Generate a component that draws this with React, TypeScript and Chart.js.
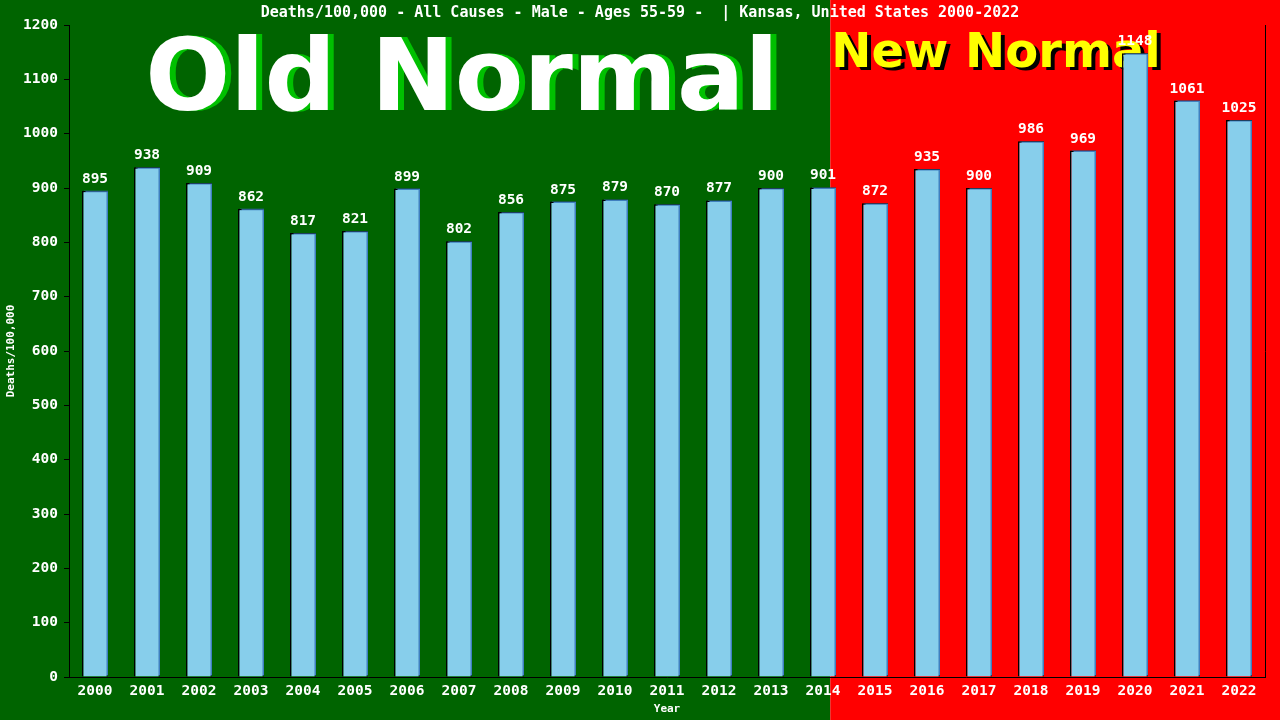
import { useEffect, useRef } from "react";
import Chart from "chart.js/auto";

const years = [
  "2000", "2001", "2002", "2003", "2004", "2005", "2006", "2007", "2008", "2009", "2010", "2011",
  "2012", "2013", "2014", "2015", "2016", "2017", "2018", "2019", "2020", "2021", "2022",
];
const deaths = [
  895, 938, 909, 862, 817, 821, 899, 802, 856, 875, 879, 870,
  877, 900, 901, 872, 935, 900, 986, 969, 1148, 1061, 1025,
];
const yTicks = [0, 1200, 100];

const titleText = "Deaths/100,000 - All Causes - Male - Ages 55-59 -  | Kansas, United States 2000-2022";
const mono = "'DejaVu Sans Mono', monospace";
const sans = "'DejaVu Sans', sans-serif";

export default function App() {
  const canvasRef = useRef<HTMLCanvasElement | null>(null);
  const chartRef = useRef<Chart | null>(null);

  useEffect(() => {
    if (!canvasRef.current) return;
    document.body.style.margin = "0";

    // green "old normal" / red "new normal" backdrop, split just after 2014
    const backdropPlugin = {
      id: "backdrop",
      beforeDraw(chart: any) {
        const ctx = chart.ctx;
        const x = chart.scales.x;
        const step = x.getPixelForValue(1) - x.getPixelForValue(0);
        const split = x.getPixelForValue(14) + step * 0.14;
        ctx.save();
        ctx.fillStyle = "#006400";
        ctx.fillRect(0, 0, split, chart.height);
        ctx.fillStyle = "#ff0000";
        ctx.fillRect(split, 0, chart.width - split, chart.height);

        ctx.fillStyle = "#ffffff";
        ctx.font = `bold 15px ${mono}`;
        ctx.textAlign = "center";
        ctx.textBaseline = "middle";
        ctx.fillText(titleText, 640, 13);
        ctx.restore();
      },
      beforeDatasetsDraw(chart: any) {
        const ctx = chart.ctx;
        const x = chart.scales.x;
        const step = x.getPixelForValue(1) - x.getPixelForValue(0);
        const split = x.getPixelForValue(14) + step * 0.14;
        ctx.save();
        ctx.textBaseline = "alphabetic";
        ctx.font = `bold 100px ${sans}`;
        ctx.textAlign = "center";
        ctx.fillStyle = "#00c000";
        ctx.fillText("Old Normal", 468, 110);
        ctx.fillStyle = "#ffffff";
        ctx.fillText("Old Normal", 462, 110);

        ctx.font = `bold 48px ${sans}`;
        ctx.textAlign = "left";
        ctx.fillStyle = "#000000";
        ctx.fillText("New Normal", split + 5, 70);
        ctx.fillStyle = "#ffff00";
        ctx.fillText("New Normal", split + 1, 67);
        ctx.restore();
      },
      beforeDatasetDraw(chart: any) {
        const ctx = chart.ctx;
        ctx.save();
        ctx.shadowColor = "#3f7fbf";
        ctx.shadowOffsetX = 2;
        ctx.shadowOffsetY = -1;
        ctx.shadowBlur = 0;
      },
      afterDatasetDraw(chart: any) {
        chart.ctx.restore();
      },
      afterDatasetsDraw(chart: any) {
        const ctx = chart.ctx;
        const meta = chart.getDatasetMeta(0);
        ctx.save();
        ctx.fillStyle = "#ffffff";
        ctx.font = `bold 14.5px ${mono}`;
        ctx.textAlign = "center";
        ctx.textBaseline = "alphabetic";
        meta.data.forEach((bar: any, i: number) => {
          ctx.fillText(String(deaths[i]), bar.x, bar.y - 8);
        });
        ctx.restore();
      },
    };

    chartRef.current?.destroy();
    chartRef.current = new Chart(canvasRef.current, {
      type: "bar",
      data: {
        labels: years,
        datasets: [
          {
            data: deaths,
            backgroundColor: "#87ceeb",
            borderColor: "#000000",
            borderWidth: 1.5,
            barPercentage: 0.5,
            categoryPercentage: 1,
          },
        ],
      },
      options: {
        responsive: false,
        animation: false,
        layout: { padding: { left: 0, right: 15, top: 25, bottom: 0 } },
        plugins: {
          legend: { display: false },
          tooltip: { enabled: false },
        },
        scales: {
          x: {
            grid: { display: false, drawTicks: false },
            border: { display: true, color: "#000000", width: 1 },
            ticks: {
              color: "#ffffff",
              font: { family: mono, size: 14.5, weight: "bold" },
              padding: 6,
              maxRotation: 0,
              autoSkip: false,
            },
            title: {
              display: true,
              text: "Year",
              color: "#ffffff",
              font: { family: mono, size: 11, weight: "bold" },
              padding: { top: 0, bottom: 4 },
            },
            afterFit(scale: any) {
              scale.height = 43;
            },
          },
          y: {
            min: yTicks[0],
            max: yTicks[1],
            grid: {
              display: true,
              drawOnChartArea: false,
              drawTicks: true,
              tickLength: 5,
              color: "#000000",
            },
            border: { display: true, color: "#000000", width: 1 },
            ticks: {
              stepSize: yTicks[2],
              color: "#ffffff",
              font: { family: mono, size: 14.5, weight: "bold" },
              padding: 6,
              callback: (v: any) => String(v),
            },
            title: {
              display: true,
              text: "Deaths/100,000",
              color: "#ffffff",
              font: { family: mono, size: 11, weight: "bold" },
              padding: { top: 5, bottom: 0 },
            },
            afterFit(scale: any) {
              scale.width = 69;
            },
          },
          y2: {
            position: "right",
            min: yTicks[0],
            max: yTicks[1],
            grid: { display: false, drawTicks: false },
            border: { display: true, color: "#000000", width: 1 },
            ticks: { display: false },
            afterFit(scale: any) {
              scale.width = 0;
            },
          },
        },
      },
      plugins: [backdropPlugin],
    });

    return () => chartRef.current?.destroy();
  }, []);

  return (
    <div style={{ width: 1280, height: 720 }}>
      <canvas ref={canvasRef} width={1280} height={720} style={{ display: "block" }} />
    </div>
  );
}
